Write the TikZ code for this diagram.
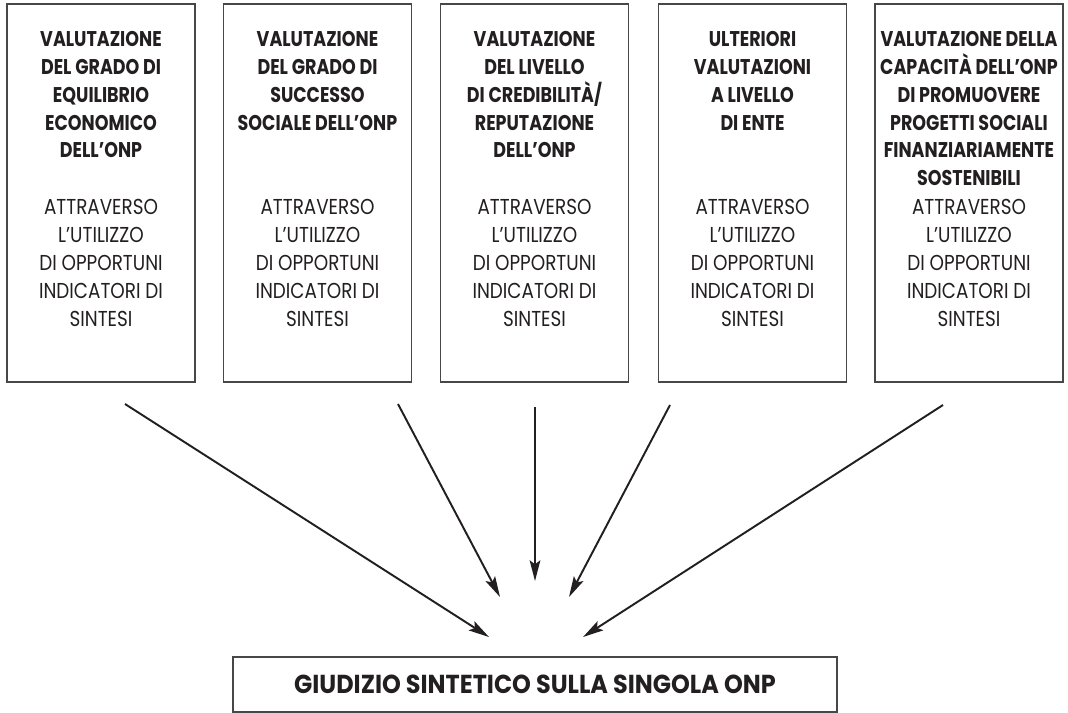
\documentclass[tikz,border=0pt]{standalone}
\usepackage{fontspec}
\setmainfont{Poppins}
\newfontfamily\headfont{Poppins}[FakeStretch=0.82]
\newfontfamily\bodyfont{Poppins}[FakeStretch=0.85]
\newfontfamily\verdictfont{Poppins}[FakeStretch=0.92]
\usetikzlibrary{arrows.meta}

\definecolor{ink}{HTML}{231F20}
\definecolor{frame}{HTML}{474747}

% strut that fixes the height of the first line of a text block
\newcommand\firstline{\rule{0pt}{15pt}}

\tikzset{
  panel/.style={draw=frame, line width=1.1pt, minimum width=141pt,
    minimum height=283.5pt, inner sep=0pt, outer sep=0pt},
  headtext/.style={anchor=north, align=center, inner sep=0pt, text=ink,
    font=\headfont\bfseries\fontsize{16pt}{20.9pt}\selectfont},
  bodytext/.style={anchor=north, align=center, inner sep=0pt, text=ink,
    font=\bodyfont\fontsize{16.2pt}{20.9pt}\selectfont},
  flow/.style={draw=ink, line width=1.45pt,
    -{Stealth[length=15.5pt,width=8pt,inset=3pt]}},
  verdict/.style={draw=frame, line width=1.1pt, minimum width=453pt,
    minimum height=41.25pt, inner sep=0pt, text=ink,
    font=\verdictfont\bfseries\fontsize{19.5pt}{23pt}\selectfont}
}

\begin{document}
\begin{tikzpicture}[x=0.75pt,y=-0.75pt]
\useasboundingbox (0,0) rectangle (1068,713);

% the five evaluation panels
\node[panel] (p1) at (101,193)   {};
\node[panel] (p2) at (317.5,193) {};
\node[panel] (p3) at (534.5,193) {};
\node[panel] (p4) at (752.5,193) {};
\node[panel] (p5) at (969,193)   {};

% headings
\node[headtext] (h1) at (101,26.2)
  {\firstline VALUTAZIONE\\DEL GRADO DI\\EQUILIBRIO\\ECONOMICO\\DELL’ONP};
\node[headtext] (h2) at (317.5,26.2)
  {\firstline VALUTAZIONE\\DEL GRADO DI\\SUCCESSO\\SOCIALE DELL’ONP};
\node[headtext] (h3) at (534.5,26.2)
  {\firstline VALUTAZIONE\\DEL LIVELLO\\DI CREDIBILITÀ/\\REPUTAZIONE\\DELL’ONP};
\node[headtext] (h4) at (752.5,26.2)
  {\firstline ULTERIORI\\VALUTAZIONI\\A LIVELLO\\DI ENTE};
\node[headtext] (h5) at (969,26.2)
  {\firstline VALUTAZIONE DELLA\\CAPACITÀ DELL’ONP\\DI PROMUOVERE\\PROGETTI SOCIALI\\FINANZIARIAMENTE\\SOSTENIBILI};

% common method text
\foreach \cx/\nm in {101/b1, 317.5/b2, 534.5/b3, 752.5/b4, 969/b5}
  \node[bodytext] (\nm) at (\cx,194.5)
    {\firstline ATTRAVERSO\\L’UTILIZZO\\DI OPPORTUNI\\INDICATORI DI\\SINTESI};

% final judgement
\node[verdict] (v) at (535,684.5) {GIUDIZIO SINTETICO SULLA SINGOLA ONP};

% arrow ends
\coordinate (s1) at (125,404);  \coordinate (t1) at (489,637);
\coordinate (s2) at (398,404);  \coordinate (t2) at (500,597);
\coordinate (s3) at (535,407);  \coordinate (t3) at (535,581);
\coordinate (s4) at (670,405);  \coordinate (t4) at (569,597);
\coordinate (s5) at (943,405);  \coordinate (t5) at (583,637);

\foreach \i in {1,...,5}
  \draw[flow] (s\i) -- (t\i);
\end{tikzpicture}
\end{document}
